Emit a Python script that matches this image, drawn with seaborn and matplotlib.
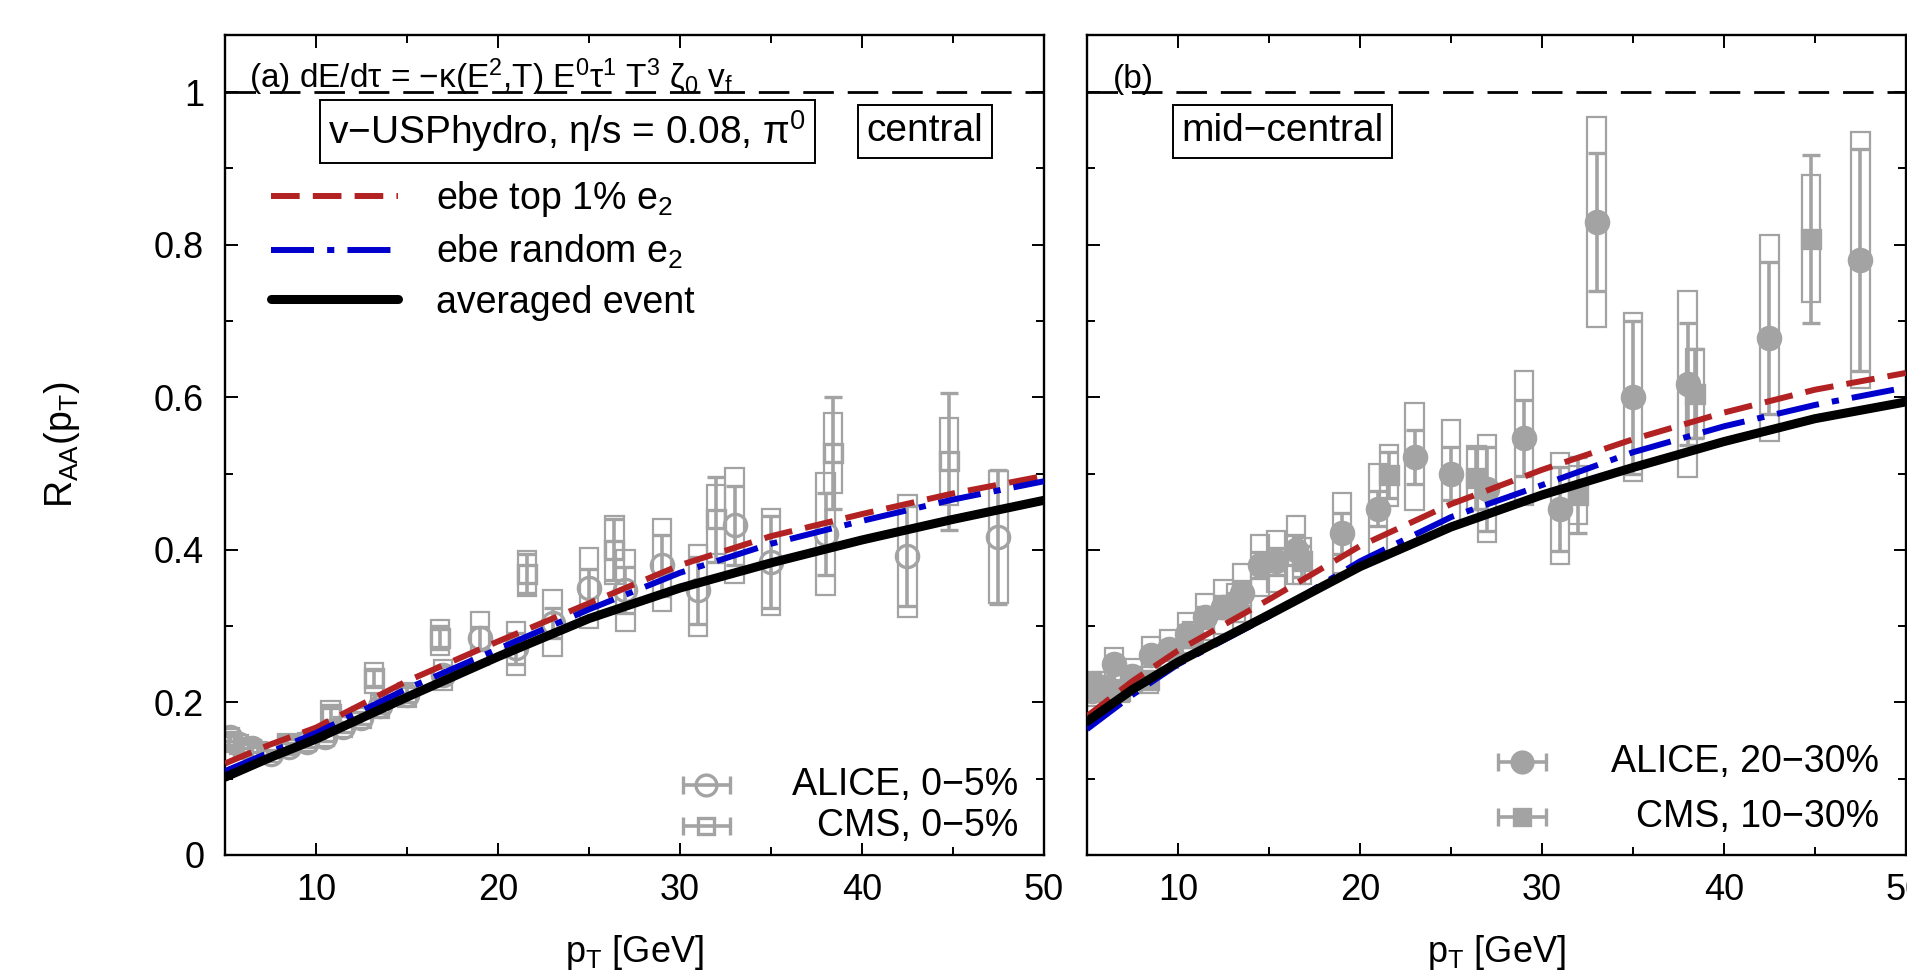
import numpy as np
import pandas as pd
import matplotlib.pyplot as plt
import seaborn as sns
from matplotlib.ticker import MultipleLocator, FuncFormatter

# ---- model curves ----
pt_curve = [5, 7.5, 10, 15, 20, 25, 30, 35, 40, 45, 50]

# panel (a), central
top1_a = [0.12, 0.145, 0.167, 0.228, 0.28, 0.33, 0.38, 0.418, 0.447, 0.474, 0.497]
rand_a = [0.11, 0.135, 0.16, 0.218, 0.27, 0.322, 0.37, 0.408, 0.438, 0.466, 0.49]
avg_a = [0.102, 0.128, 0.152, 0.207, 0.26, 0.31, 0.35, 0.383, 0.413, 0.44, 0.465]

# panel (b), mid-central
top1_b = [0.182, 0.228, 0.268, 0.335, 0.405, 0.46, 0.505, 0.545, 0.58, 0.61, 0.632]
rand_b = [0.165, 0.21, 0.25, 0.313, 0.385, 0.443, 0.485, 0.528, 0.562, 0.59, 0.613]
avg_b = [0.175, 0.217, 0.253, 0.315, 0.378, 0.43, 0.472, 0.508, 0.542, 0.572, 0.594]

# ---- data: ALICE 0-5% ----
alice_a_pt = [5.25, 5.75, 6.5, 7.5, 8.5, 9.5, 10.5, 11.5, 12.5, 13.5, 15, 17, 19, 21,
              23, 25, 27, 29, 31, 33, 35, 38, 42.5, 47.5]
alice_a_r = [0.155, 0.145, 0.14, 0.133, 0.142, 0.148, 0.155, 0.168, 0.18, 0.195, 0.21, 0.236,
             0.284, 0.271, 0.304, 0.35, 0.347, 0.38, 0.347, 0.432, 0.384, 0.421, 0.392, 0.417]
alice_a_stat = [0.005, 0.005, 0.005, 0.005, 0.005, 0.006, 0.006, 0.007, 0.008, 0.009, 0.01, 0.012,
                0.015, 0.02, 0.02, 0.025, 0.03, 0.04, 0.044, 0.052, 0.06, 0.054, 0.065, 0.088]
alice_a_sys = [0.012, 0.012, 0.011, 0.011, 0.011, 0.012, 0.012, 0.013, 0.014, 0.015, 0.016, 0.02,
               0.035, 0.035, 0.043, 0.052, 0.053, 0.06, 0.06, 0.075, 0.07, 0.08, 0.08, 0.087]

# ---- data: CMS 0-5% ----
cms_a_pt = [5.2, 6.0, 6.8, 8.4, 10.8, 13.2, 16.8, 21.6, 26.4, 32.0, 38.4, 44.8]
cms_a_r = [0.15, 0.14, 0.135, 0.145, 0.185, 0.232, 0.285, 0.369, 0.40, 0.44, 0.527, 0.516]
cms_a_stat = [0.006, 0.006, 0.006, 0.007, 0.008, 0.01, 0.015, 0.025, 0.04, 0.056, 0.073, 0.09]
cms_a_sys = [0.015, 0.014, 0.013, 0.014, 0.017, 0.02, 0.023, 0.03, 0.045, 0.045, 0.053, 0.057]

# ---- data: ALICE 20-30% ----
alice_b_pt = [5.25, 5.75, 6.5, 7.5, 8.5, 9.5, 10.5, 11.5, 12.5, 13.5, 14.5, 15.4, 16.5, 19,
              21, 23, 25, 27, 29, 31, 33, 35, 38, 42.5, 47.5]
alice_b_r = [0.215, 0.22, 0.25, 0.235, 0.262, 0.27, 0.29, 0.312, 0.325, 0.343, 0.38, 0.385, 0.40,
             0.422, 0.454, 0.522, 0.50, 0.48, 0.547, 0.454, 0.83, 0.60, 0.618, 0.678, 0.78]
alice_b_stat = [0.008, 0.008, 0.008, 0.008, 0.01, 0.01, 0.012, 0.013, 0.014, 0.016, 0.017, 0.018,
                0.02, 0.027, 0.023, 0.035, 0.035, 0.055, 0.05, 0.055, 0.09, 0.1, 0.08, 0.1, 0.145]
alice_b_sys = [0.02, 0.02, 0.022, 0.022, 0.024, 0.025, 0.027, 0.03, 0.035, 0.038, 0.04, 0.04,
               0.045, 0.052, 0.059, 0.07, 0.07, 0.07, 0.088, 0.073, 0.138, 0.11, 0.122, 0.135, 0.168]

# ---- data: CMS 10-30% ----
cms_b_pt = [5.2, 6.0, 6.8, 8.4, 10.8, 13.2, 16.8, 21.6, 26.4, 32.0, 38.4, 44.8]
cms_b_r = [0.225, 0.22, 0.215, 0.23, 0.285, 0.33, 0.385, 0.498, 0.494, 0.472, 0.605, 0.808]
cms_b_stat = [0.008, 0.008, 0.008, 0.01, 0.012, 0.014, 0.02, 0.03, 0.04, 0.05, 0.058, 0.11]
cms_b_sys = [0.015, 0.015, 0.015, 0.017, 0.02, 0.025, 0.03, 0.04, 0.042, 0.038, 0.058, 0.083]

curve_labels = ['ebe top 1% e$_2$', 'ebe random e$_2$', 'averaged event']

GRAY = '#a3a3a3'
RED = '#b22222'
BLUE = '#0000cc'
FS_TICK = 26
FS = 27

sns.set_style('ticks')
plt.rcParams['font.family'] = ['Liberation Sans', 'DejaVu Sans']
plt.rcParams['mathtext.fontset'] = 'custom'
plt.rcParams['mathtext.rm'] = 'Liberation Sans'
plt.rcParams['mathtext.it'] = 'Liberation Sans:italic'
plt.rcParams['mathtext.default'] = 'regular'
plt.rcParams['text.color'] = 'black'
plt.rcParams['axes.labelcolor'] = 'black'
plt.rcParams['xtick.color'] = 'black'
plt.rcParams['ytick.color'] = 'black'

fig = plt.figure(figsize=(19.08, 9.73), dpi=100)
ax1 = fig.add_axes([225 / 1908, 1 - 855 / 973, 819 / 1908, 820 / 973])
ax2 = fig.add_axes([1087 / 1908, 1 - 855 / 973, 819 / 1908, 820 / 973])


def draw_data(ax, pt, r, stat, sys, marker, filled, ms):
    # systematic boxes
    ax.bar(pt, 2 * np.array(sys), bottom=np.array(r) - np.array(sys), width=1.0,
           fill=False, edgecolor=GRAY, linewidth=1.6, zorder=1)
    ax.errorbar(pt, r, yerr=stat, fmt=marker, ms=ms,
                mfc=GRAY if filled else 'none', mec=GRAY, mew=2.4,
                ecolor=GRAY, elinewidth=2.6, capsize=6.5, capthick=2.6, zorder=2)


def draw_curves(ax, top1, rand, avg):
    df = pd.DataFrame({'pt': pt_curve, 'top1': top1, 'rand': rand, 'avg': avg})
    sns.lineplot(data=df, x='pt', y='top1', ax=ax, color=RED, lw=4.3,
                 linestyle=(0, (4.8, 2.2)), zorder=4)
    sns.lineplot(data=df, x='pt', y='rand', ax=ax, color=BLUE, lw=4.3,
                 linestyle=(0, (7.2, 2.2, 1.2, 2.2)), zorder=4)
    sns.lineplot(data=df, x='pt', y='avg', ax=ax, color='black', lw=6.5, zorder=5)
    return ax.lines[-3:]


def data_key(ax, xc, yc, marker, filled, ms, label, xt):
    ax.errorbar([xc], [yc], xerr=[1.3], fmt=marker, ms=ms,
                mfc=GRAY if filled else 'none', mec=GRAY, mew=2.4,
                ecolor=GRAY, elinewidth=2.6, capsize=6.5, capthick=2.6, zorder=3)
    ax.text(xt, yc, label, ha='right', va='center', fontsize=FS)


# panel (a)
draw_data(ax1, alice_a_pt, alice_a_r, alice_a_stat, alice_a_sys, 'o', False, 16)
draw_data(ax1, cms_a_pt, cms_a_r, cms_a_stat, cms_a_sys, 's', False, 13)
lines_a = draw_curves(ax1, top1_a, rand_a, avg_a)
data_key(ax1, 31.45, 0.092, 'o', False, 15, 'ALICE, 0−5%', 48.6)
data_key(ax1, 31.45, 0.038, 's', False, 12, 'CMS, 0−5%', 48.6)

# panel (b)
draw_data(ax2, alice_b_pt, alice_b_r, alice_b_stat, alice_b_sys, 'o', True, 16)
draw_data(ax2, cms_b_pt, cms_b_r, cms_b_stat, cms_b_sys, 's', True, 13)
draw_curves(ax2, top1_b, rand_b, avg_b)
data_key(ax2, 28.9, 0.122, 'o', True, 15, 'ALICE, 20−30%', 48.5)
data_key(ax2, 28.9, 0.050, 's', True, 12, 'CMS, 10−30%', 48.5)

ax1.legend(handles=lines_a, labels=curve_labels, loc='upper left',
           bbox_to_anchor=(0.056, 0.824), frameon=False, fontsize=FS,
           handlelength=3.4, handletextpad=1.0, labelspacing=0.36,
           borderpad=0, borderaxespad=0)

ax1.text(6.3, 1.006, '(a) dE/dτ = −κ(E$^2$,T) E$^0$τ$^1$ T$^3$ ζ$_0$ v$_f$',
         fontsize=24, ha='left', va='baseline', zorder=6)
ax2.text(6.4, 1.006, '(b)', fontsize=24, ha='left', va='baseline', zorder=6)

box = dict(boxstyle='square,pad=0.22', fc='white', ec='black', lw=1.4)
ax1.text(23.8, 0.949, 'v−USPhydro, η/s = 0.08, π$^0$', fontsize=28,
         ha='center', va='center', bbox=box, zorder=6)
ax1.text(43.45, 0.949, 'central', fontsize=28, ha='center', va='center', bbox=box, zorder=6)
ax2.text(15.75, 0.949, 'mid−central', fontsize=28, ha='center', va='center', bbox=box, zorder=6)

yfmt = FuncFormatter(lambda v, p: '0' if abs(v) < 1e-9 else ('1' if abs(v - 1) < 1e-9 else f'{v:.1f}'))
for ax in (ax1, ax2):
    ax.axhline(1.0, color='black', lw=2.0, dashes=(11, 5), zorder=0.5)
    ax.set_xlim(5, 50)
    ax.set_ylim(0, 1.075)
    ax.xaxis.set_major_locator(MultipleLocator(10))
    ax.xaxis.set_minor_locator(MultipleLocator(5))
    ax.yaxis.set_major_locator(MultipleLocator(0.2))
    ax.yaxis.set_minor_locator(MultipleLocator(0.1))
    ax.yaxis.set_major_formatter(yfmt)
    ax.tick_params(which='both', direction='in', top=True, right=True,
                   width=1.4, labelsize=FS_TICK, color='black', labelcolor='black')
    ax.tick_params(which='major', length=9)
    ax.tick_params(which='minor', length=6)
    ax.tick_params(axis='x', pad=13)
    ax.tick_params(axis='y', pad=15)
    for s in ax.spines.values():
        s.set_linewidth(1.7)
        s.set_color('black')
    ax.set_xlabel('p$_T$ [GeV]', fontsize=FS_TICK, labelpad=18)
    ax.set_ylabel('')

ax2.tick_params(labelleft=False)
ax1.set_ylabel('R$_{AA}$(p$_T$)', fontsize=FS)
ax1.yaxis.set_label_coords(-0.175, 0.5)

fig.savefig('out.png', dpi=100)
